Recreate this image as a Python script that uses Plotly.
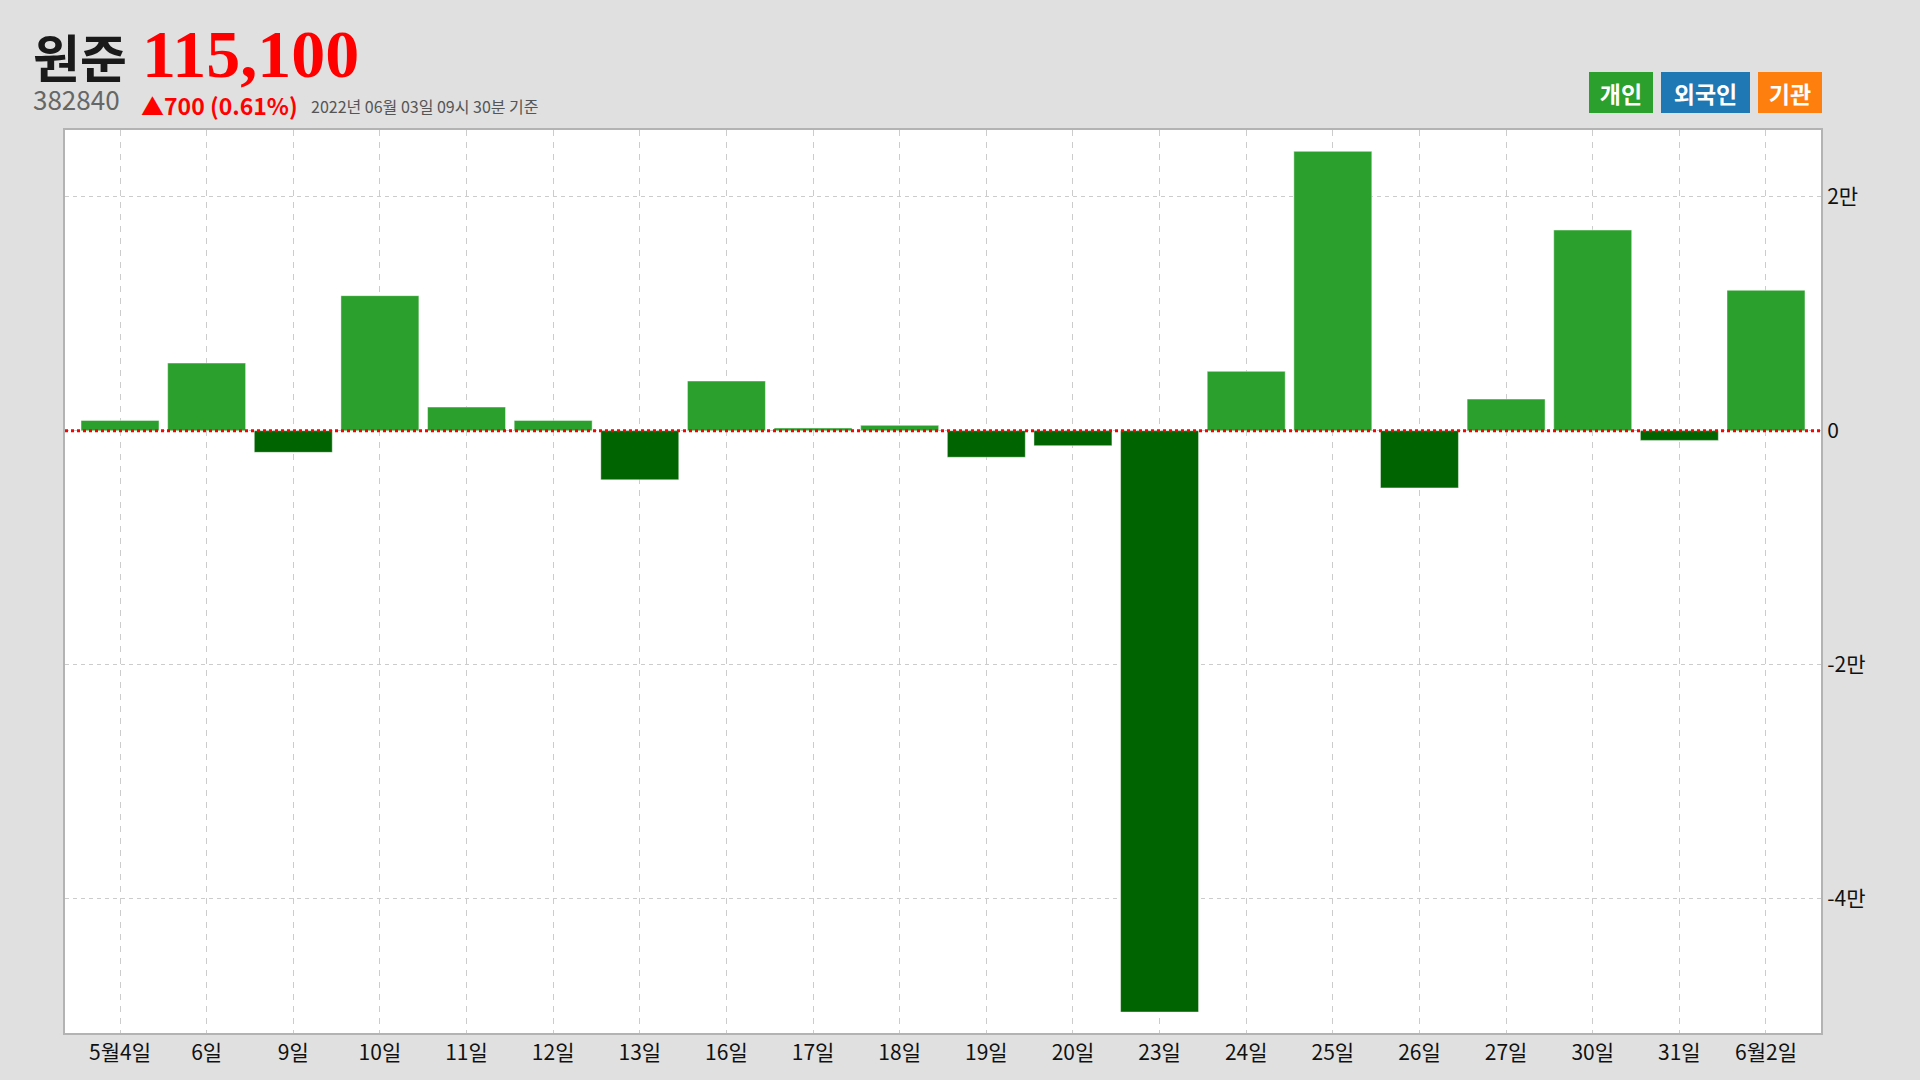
import plotly.graph_objects as go

# ---- data ----
categories = ["5월4일", "6일", "9일", "10일", "11일", "12일", "13일", "16일", "17일", "18일",
              "19일", "20일", "23일", "24일", "25일", "26일", "27일", "30일", "31일", "6월2일"]
individual_net = [880, 5780, -1850, 11540, 2020, 880, -4200, 4245, 230, 456,
                  -2270, -1280, -49690, 5070, 23875, -4890, 2700, 17150, -830, 12000]
y_tick_vals = [-40000, -20000, 0, 20000]
y_tick_text = ["-4만", "-2만", "0", "2만"]

name_text = "원준"
code_text = "382840"
price_text = "115,100"
change_text = "▲700 (0.61%)"
date_text = "2022년 06월 03일 09시 30분 기준"
legend_labels = ["개인", "외국인", "기관"]
legend_colors = ["#2ca02c", "#1f77b4", "#ff7f0e"]

POS_COLOR = "#2ca02c"
NEG_COLOR = "#006400"
FONT = "Noto Sans CJK KR"

W, H = 1920, 1080
L, R, T, B = 65, 99, 130, 47
PW, PH = W - L - R, H - T - B


def px(xp):
    return (xp - L) / PW


def py(yp):
    return (H - B - yp) / PH


colors = [POS_COLOR if v >= 0 else NEG_COLOR for v in individual_net]

fig = go.Figure()
fig.add_trace(go.Bar(
    x=categories, y=individual_net, width=0.9,
    marker=dict(color=colors, line=dict(color="rgba(255,255,255,0.45)", width=1)),
    hoverinfo="x+y", showlegend=False,
))

fig.add_shape(type="line", xref="paper", yref="y", x0=0, x1=1, y0=0, y1=0,
              line=dict(color="#ff0000", width=3, dash="dot"), layer="above")

annotations = [
    dict(text=f"<b>{name_text}</b>", x=px(31), y=py(56), xanchor="left", yanchor="middle",
         font=dict(family=FONT, size=51, color="#1a1a1a")),
    dict(text=f"<b>{price_text}</b>", x=px(140), y=py(54), xanchor="left", yanchor="middle",
         font=dict(family="Liberation Serif", size=68, color="#ff0000")),
    dict(text=code_text, x=px(31), y=py(98), xanchor="left", yanchor="middle",
         font=dict(family=FONT, size=26, color="#666666")),
    dict(text=f"<b>{change_text}</b>", x=px(139), y=py(105), xanchor="left", yanchor="middle",
         font=dict(family=FONT, size=23, color="#ff0000")),
    dict(text=date_text, x=px(309), y=py(106), xanchor="left", yanchor="middle",
         font=dict(family=FONT, size=16, color="#555555")),
]

box_left = [1589, 1661, 1758]
box_w = [64, 89, 64]
for lab, col, bl, bw in zip(legend_labels, legend_colors, box_left, box_w):
    annotations.append(dict(
        text=f"<b>{lab}</b>", x=px(bl + bw / 2), y=py(92.5), xanchor="center", yanchor="middle",
        width=bw, height=41, bgcolor=col, borderpad=0, borderwidth=0,
        font=dict(family=FONT, size=23, color="#ffffff")))

for a in annotations:
    a.update(xref="paper", yref="paper", showarrow=False)

fig.update_layout(
    width=W, height=H,
    margin=dict(l=L, r=R, t=T, b=B),
    paper_bgcolor="#e0e0e0",
    plot_bgcolor="#ffffff",
    font=dict(family=FONT, color="#111111"),
    annotations=annotations,
    bargap=0.1,
)
fig.update_xaxes(
    type="category", categoryorder="array", categoryarray=categories,
    range=[-0.635, len(categories) - 1 + 0.635],
    showgrid=True, gridcolor="#cccccc", griddash="6px,6px", gridwidth=1,
    showline=True, linecolor="#b3b3b3", linewidth=2, mirror=True,
    ticks="", tickfont=dict(family=FONT, size=21, color="#111111"),
    zeroline=False, fixedrange=True,
)
fig.update_yaxes(
    side="right", range=[-51480, 25700],
    tickmode="array", tickvals=y_tick_vals, ticktext=y_tick_text,
    showgrid=True, gridcolor="#cccccc", griddash="4px,4px", gridwidth=1,
    showline=True, linecolor="#b3b3b3", linewidth=2, mirror=True,
    ticks="", tickfont=dict(family=FONT, size=21, color="#111111"),
    zeroline=False, fixedrange=True,
)

fig.write_html(
    "out.html",
    config={"displayModeBar": False},
    post_script="document.body.style.margin='0';document.body.style.background='#e0e0e0';",
)
